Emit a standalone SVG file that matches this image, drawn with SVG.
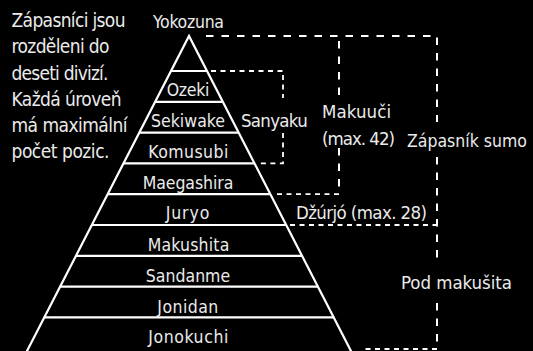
<svg xmlns="http://www.w3.org/2000/svg" width="533" height="351" viewBox="0 0 533 351">
<style>
text{font-family:"DejaVu Sans Condensed","DejaVu Sans",sans-serif;font-stretch:condensed;font-size:17.5px;fill:#ebebeb}
.c{text-anchor:middle}
.l{font-size:19px}
.r{font-size:18.5px}
.solid{stroke:#fff;stroke-width:2.2;fill:none}
.dl{stroke:#fff;stroke-width:2;fill:none;stroke-dasharray:7.5 8}
.ds{stroke:#fff;stroke-width:1.8;fill:none;stroke-dasharray:5 4.5}
</style>
<rect width="533" height="351" fill="#000"/>
<g id="intro">
<text class="l" x="11.5" y="27" textLength="114">Zápasníci jsou</text>
<text class="l" x="11.5" y="53" textLength="98">rozděleni do</text>
<text class="l" x="11.5" y="79.5" textLength="97">deseti divizí.</text>
<text class="l" x="11.5" y="106" textLength="110">Každá úroveň</text>
<text class="l" x="11.5" y="132" textLength="116">má maximální</text>
<text class="l" x="11.5" y="158" textLength="98">počet pozic.</text>
</g>
<g id="pyramid">
<path class="solid" d="M26.5,352 L189,36 L351.5,352"/>
<path class="solid" d="M170.9,71H207.1M155,101.8H223M139.2,132.6H238.8M123.3,163.4H254.7M107.4,194.2H270.6M91.5,225H286.5M75.6,255.8H302.4M59.7,286.6H318.3M43.8,317.4H334.2"/>
</g>
<g id="yokozuna"><text class="c" x="188.5" y="27.5" textLength="71">Yokozuna</text></g>
<g id="ozeki"><text class="c" x="188" y="96" textLength="42.7">Ozeki</text></g>
<g id="sekiwake"><text class="c" x="188" y="127" textLength="74">Sekiwake</text></g>
<g id="komusubi"><text class="c" x="188.3" y="157.7" textLength="80">Komusubi</text></g>
<g id="maegashira"><text class="c" x="188" y="188.5" textLength="90.7">Maegashira</text></g>
<g id="juryo"><text class="c" x="187.5" y="219.3" textLength="43.7">Juryo</text></g>
<g id="makushita"><text class="c" x="188.5" y="250.5" textLength="81.7">Makushita</text></g>
<g id="sandanme"><text class="c" x="188" y="281.5" textLength="84.3">Sandanme</text></g>
<g id="jonidan"><text class="c" x="187.8" y="312.5" textLength="61">Jonidan</text></g>
<g id="jonokuchi"><text class="c" x="188.3" y="343.3" textLength="80">Jonokuchi</text></g>
<g id="connectors">
<path class="dl" d="M206,36H437V122"/>
<path class="dl" d="M437,157V260"/>
<path class="dl" d="M437,303V349"/>
<path class="ds" d="M437,349H362"/>
<path class="dl" d="M339,41V100"/>
<path class="dl" d="M339,148V194.2"/>
<path class="ds" d="M339,194.2H274"/>
<path class="ds" d="M211,71H283V98"/>
<path class="ds" d="M283,133V163.4H258"/>
<path class="ds" d="M290,225H437"/>
</g>
<g id="sanyaku"><text class="r" x="241" y="127" textLength="66.7">Sanyaku</text></g>
<g id="makuuchi"><text class="r" x="322" y="118" textLength="69">Makuuči</text><text class="r" x="322" y="144.5" textLength="73">(max. 42)</text></g>
<g id="sumo"><text x="407" y="147">Zápasník sumo</text></g>
<g id="dzurjo"><text class="r" x="296" y="218.5" textLength="131">Džúrjó (max. 28)</text></g>
<g id="podmakushita"><text class="r" x="401" y="288.5" textLength="111">Pod makušita</text></g>
</svg>
